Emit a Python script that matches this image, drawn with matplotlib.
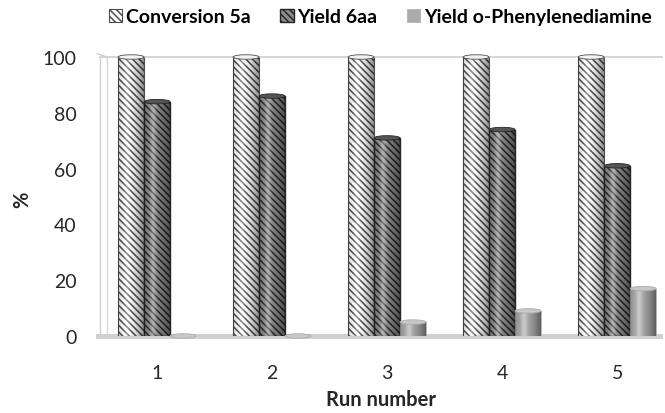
import numpy as np
import matplotlib
matplotlib.use("Agg")
import matplotlib.pyplot as plt
from matplotlib.patches import Patch, Ellipse, Rectangle

plt.rcParams['font.family'] = ['Lato', 'DejaVu Sans']
plt.rcParams['hatch.linewidth'] = 1.1

runs = ["1", "2", "3", "4", "5"]
conversion_5a = [100, 100, 100, 100, 100]
yield_6aa = [84, 86, 71, 74, 61]
yield_opd = [0, 0, 5, 9, 17]
series_names = ["Conversion 5a", "Yield 6aa", "Yield o-Phenylenediamine"]

fig = plt.figure(figsize=(6.65, 4.14), dpi=100)
ax = fig.add_axes([100/665, (414-337)/414, (662-100)/665, (337-58)/414])

x = np.arange(len(runs))
w = 0.226
hatch = "\\\\\\\\\\"
styles = [
    dict(facecolor="white", edgecolor="#4d4d4d", hatch=hatch, linewidth=0.8),
    dict(facecolor="#8c8c8c", edgecolor="#262626", hatch=hatch, linewidth=1.0),
    dict(facecolor="#ababab", edgecolor="#ababab", hatch=None, linewidth=0.5),
]
top_colors = ["#f2f2f2", "#555555", "#c8c8c8"]

# cylinder shading
n = 64
t = np.linspace(0, 1, n)
shade = np.clip(np.abs(t - 0.35) / 0.65, 0, 1) ** 1.6
rgba = np.zeros((1, n, 4))
rgba[..., 3] = 0.45 * shade
hl = np.exp(-((t - 0.35) / 0.12) ** 2)
rgba_hl = np.ones((1, n, 4))
rgba_hl[..., 3] = 0.35 * hl

for i, (vals, st) in enumerate(zip([conversion_5a, yield_6aa, yield_opd], styles)):
    pos = x + (i - 1) * w
    bars = ax.bar(pos, vals, width=w, zorder=2, **st)
    for b, v in zip(bars, vals):
        x0 = b.get_x()
        if v > 0:
            im = ax.imshow(rgba, extent=[x0, x0 + w, 0, v], aspect='auto', zorder=3)
            im.set_clip_path(b)
            im2 = ax.imshow(rgba_hl, extent=[x0, x0 + w, 0, v], aspect='auto', zorder=3)
            im2.set_clip_path(b)
        e = Ellipse((x0 + w / 2, v), w, 1.6, facecolor=top_colors[i],
                    edgecolor=st["edgecolor"], linewidth=0.6, zorder=4, clip_on=False)
        ax.add_patch(e)

ax.set_xlim(-0.496, 4.39)
ax.set_ylim(0, 100)
ax.set_yticks([0, 20, 40, 60, 80, 100])
ax.set_xticks(x)
ax.set_xticklabels(runs)
ax.tick_params(axis='both', length=0, labelsize=14, colors="#262626")
ax.tick_params(axis='y', pad=17)
ax.tick_params(axis='x', pad=20)

for s in ["right", "bottom"]:
    ax.spines[s].set_visible(False)
ax.spines["top"].set_color("#d0d0d0")
ax.spines["top"].set_linewidth(1.2)
ax.spines["left"].set_color("#d0d0d0")
ax.spines["left"].set_linewidth(1.0)
# back wall inner line
ax.plot([0.012, 0.012], [0.0, 1.0], transform=ax.transAxes, color="#d8d8d8", lw=1.0, zorder=1, clip_on=False)
ax.plot([-0.005, 0.012], [1.012, 1.0], transform=ax.transAxes, color="#d0d0d0", lw=1.0, zorder=1, clip_on=False)
# floor
ax.add_patch(Rectangle((-0.008, -0.012), 1.01, 0.02, transform=ax.transAxes,
                       facecolor="#d0d0d0", edgecolor="none", zorder=1, clip_on=False))

ax.set_xlabel("Run number", fontsize=14.5, fontweight="bold", color="#262626", labelpad=6)
fig.text(22/665, 1 - 200/414, "%", rotation=90, fontsize=14.5, fontweight="bold",
         color="#262626", ha="center", va="center")

handles = [Patch(**styles[0]), Patch(**styles[1]), Patch(**styles[2])]
fig.legend(handles, series_names, loc="upper center", bbox_to_anchor=(0.572, 1.02),
           ncol=3, frameon=False, handlelength=0.7, handleheight=0.7,
           handletextpad=0.2, columnspacing=1.5, prop=dict(weight="bold", size=14))

fig.savefig("out.png", dpi=100)
